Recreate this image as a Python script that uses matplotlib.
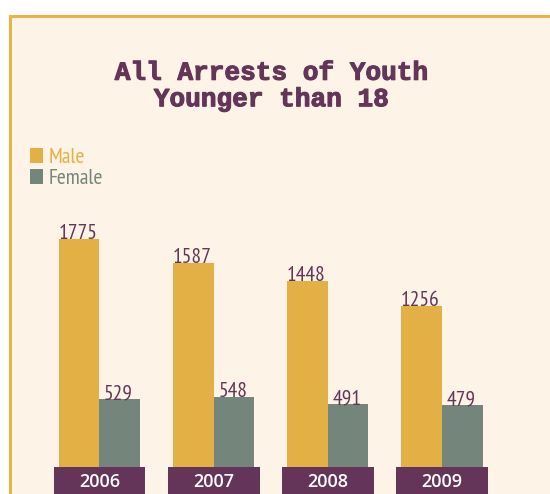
import matplotlib
matplotlib.use("Agg")
import matplotlib.pyplot as plt
import matplotlib.patheffects as pe
from matplotlib.patches import Rectangle
import numpy as np

years = ["2006", "2007", "2008", "2009"]
male = [1775, 1587, 1448, 1256]
female = [529, 548, 491, 479]
title = "All Arrests of Youth\nYounger than 18"
series_names = ["Male", "Female"]

ORANGE = "#E3B045"
GRAY = "#74857C"
PURPLE = "#643558"
CREAM = "#FDF3E6"
BORDER = "#E8B44A"

W, H = 550, 494
fig = plt.figure(figsize=(W / 100, H / 100), dpi=100, facecolor="white")

# panel
fig.patches.append(Rectangle((10 / W, -0.1), 1.0, (H - 16) / H + 0.1,
                             transform=fig.transFigure, facecolor=CREAM,
                             edgecolor=BORDER, linewidth=2.2, zorder=-5))

narrow = ["PT Sans Narrow", "DejaVu Sans"]

ax = fig.add_axes([0, 0, 1, 1])
ax.set_facecolor("none")
ax.axis("off")
ax.set_zorder(1)
px_unit = 114.2
scale = 0.1285
c0 = 99.3
ax.set_xlim(-c0 / px_unit, (W - c0) / px_unit)
ax.set_ylim(-27 / scale, 467 / scale)

x = np.arange(len(years))
bw = 40.7 / px_unit
ax.bar(x - bw / 2, male, width=bw, color=ORANGE, zorder=2)
ax.bar(x + bw / 2, female, width=bw, color=GRAY, zorder=2)

for i in range(len(years)):
    ax.text(x[i] - bw / 2 - 0.01, male[i], str(male[i]), ha="center", va="baseline",
            color=PURPLE, fontsize=15.5, family=narrow, zorder=3)
    ax.text(x[i] + bw / 2 - 0.01, female[i], str(female[i]), ha="center", va="baseline",
            color=PURPLE, fontsize=15.5, family=narrow, zorder=3)
    boxw = 91.5 / px_unit
    ax.add_patch(Rectangle((x[i] - boxw / 2 + 0.003, -40 / scale), boxw, 40 / scale,
                           facecolor=PURPLE, edgecolor="none", zorder=3, clip_on=False))
    ax.text(x[i] + 0.003, -15 / scale, years[i], ha="center", va="center",
            color="white", fontsize=13, fontweight="semibold",
            family=["Open Sans", "DejaVu Sans"], zorder=4)

# title
fig.text(271 / W, 1 - 86 / H, title, ha="center", va="center", color=PURPLE,
         fontsize=18.8, fontweight="bold", linespacing=1.13,
         family=["Liberation Mono", "DejaVu Sans Mono"],
         path_effects=[pe.withStroke(linewidth=0.8, foreground=PURPLE)])

# legend
for k, (name, col) in enumerate(zip(series_names, [ORANGE, GRAY])):
    ytop = 148 + 21 * k
    fig.patches.append(Rectangle((30 / W, 1 - (ytop + 15) / H), 13 / W, 15 / H,
                                 transform=fig.transFigure, facecolor=col,
                                 edgecolor="none", zorder=2))
    fig.text(49 / W, 1 - (ytop + 15) / H, name, ha="left", va="baseline",
             color=col, fontsize=15.5, family=narrow)

fig.savefig("out.png", dpi=100, facecolor="white")
